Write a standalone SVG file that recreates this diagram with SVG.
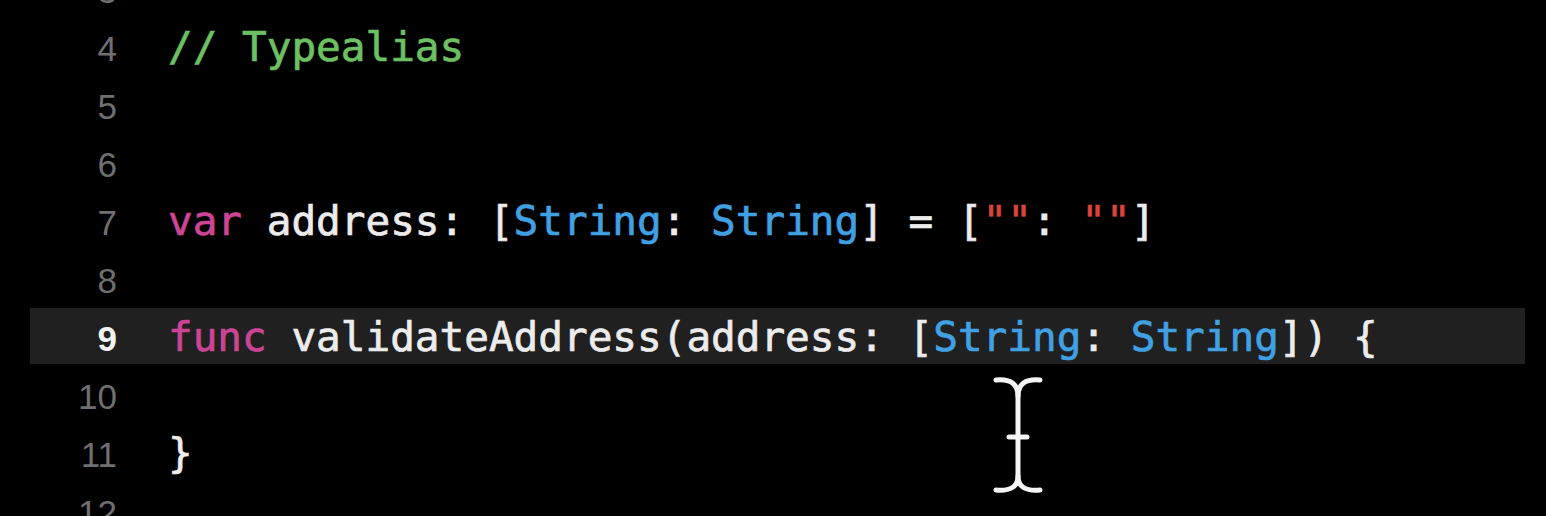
<svg xmlns="http://www.w3.org/2000/svg" width="1546" height="516" viewBox="0 0 1546 516">
<style>
.ln{font-family:"Liberation Sans","DejaVu Sans",sans-serif;font-size:35px;fill:#6f6f6f;text-anchor:end}
.ln.cur{fill:#f2f2f2;font-weight:bold}
.code{font-family:"DejaVu Sans Mono","Liberation Mono",monospace;font-size:41px;fill:#ececec;stroke:#ececec;stroke-width:0.7;white-space:pre}
.cm{fill:#6cc062;stroke:#6cc062}
.kw{fill:#cc4595;stroke:#cc4595}
.ty{fill:#41a0e2;stroke:#41a0e2}
.st{fill:#dc433b;stroke:#dc433b}
</style>
<rect width="1546" height="516" fill="#000"/>
<rect id="highlight" x="30" y="308" width="1495" height="56" fill="#202020"/>
<g id="gutter">
<text class="ln" x="117" y="3">3</text>
<text class="ln" x="117" y="61">4</text>
<text class="ln" x="117" y="119">5</text>
<text class="ln" x="117" y="177">6</text>
<text class="ln" x="117" y="235">7</text>
<text class="ln" x="117" y="293">8</text>
<text class="ln cur" x="117" y="351">9</text>
<text class="ln" x="117" y="409">10</text>
<text class="ln" x="117" y="467">11</text>
<text class="ln" x="117" y="525">12</text>
</g>
<g id="code">
<text id="line4" class="code cm" x="168" y="61">// Typealias</text>
<text id="line7" class="code" x="168" y="235"><tspan class="kw">var</tspan> address: [<tspan class="ty">String</tspan>: <tspan class="ty">String</tspan>] = [<tspan class="st">""</tspan>: <tspan class="st">""</tspan>]</text>
<text id="line9" class="code" x="168" y="351"><tspan class="kw">func</tspan> validateAddress(address: [<tspan class="ty">String</tspan>: <tspan class="ty">String</tspan>]) {</text>
<text id="line11" class="code" x="168" y="467">}</text>
</g>
<g id="cursor" fill="none" stroke="#f4f4f4" stroke-width="5" stroke-linecap="round">
<path d="M996 380 Q1018 378 1018 396 L1018 476 Q1018 492 996 490"/>
<path d="M1040 380 Q1018 378 1018 396 M1018 476 Q1018 492 1040 490"/>
<path d="M1009 437 L1027 437"/>
</g>
</svg>
